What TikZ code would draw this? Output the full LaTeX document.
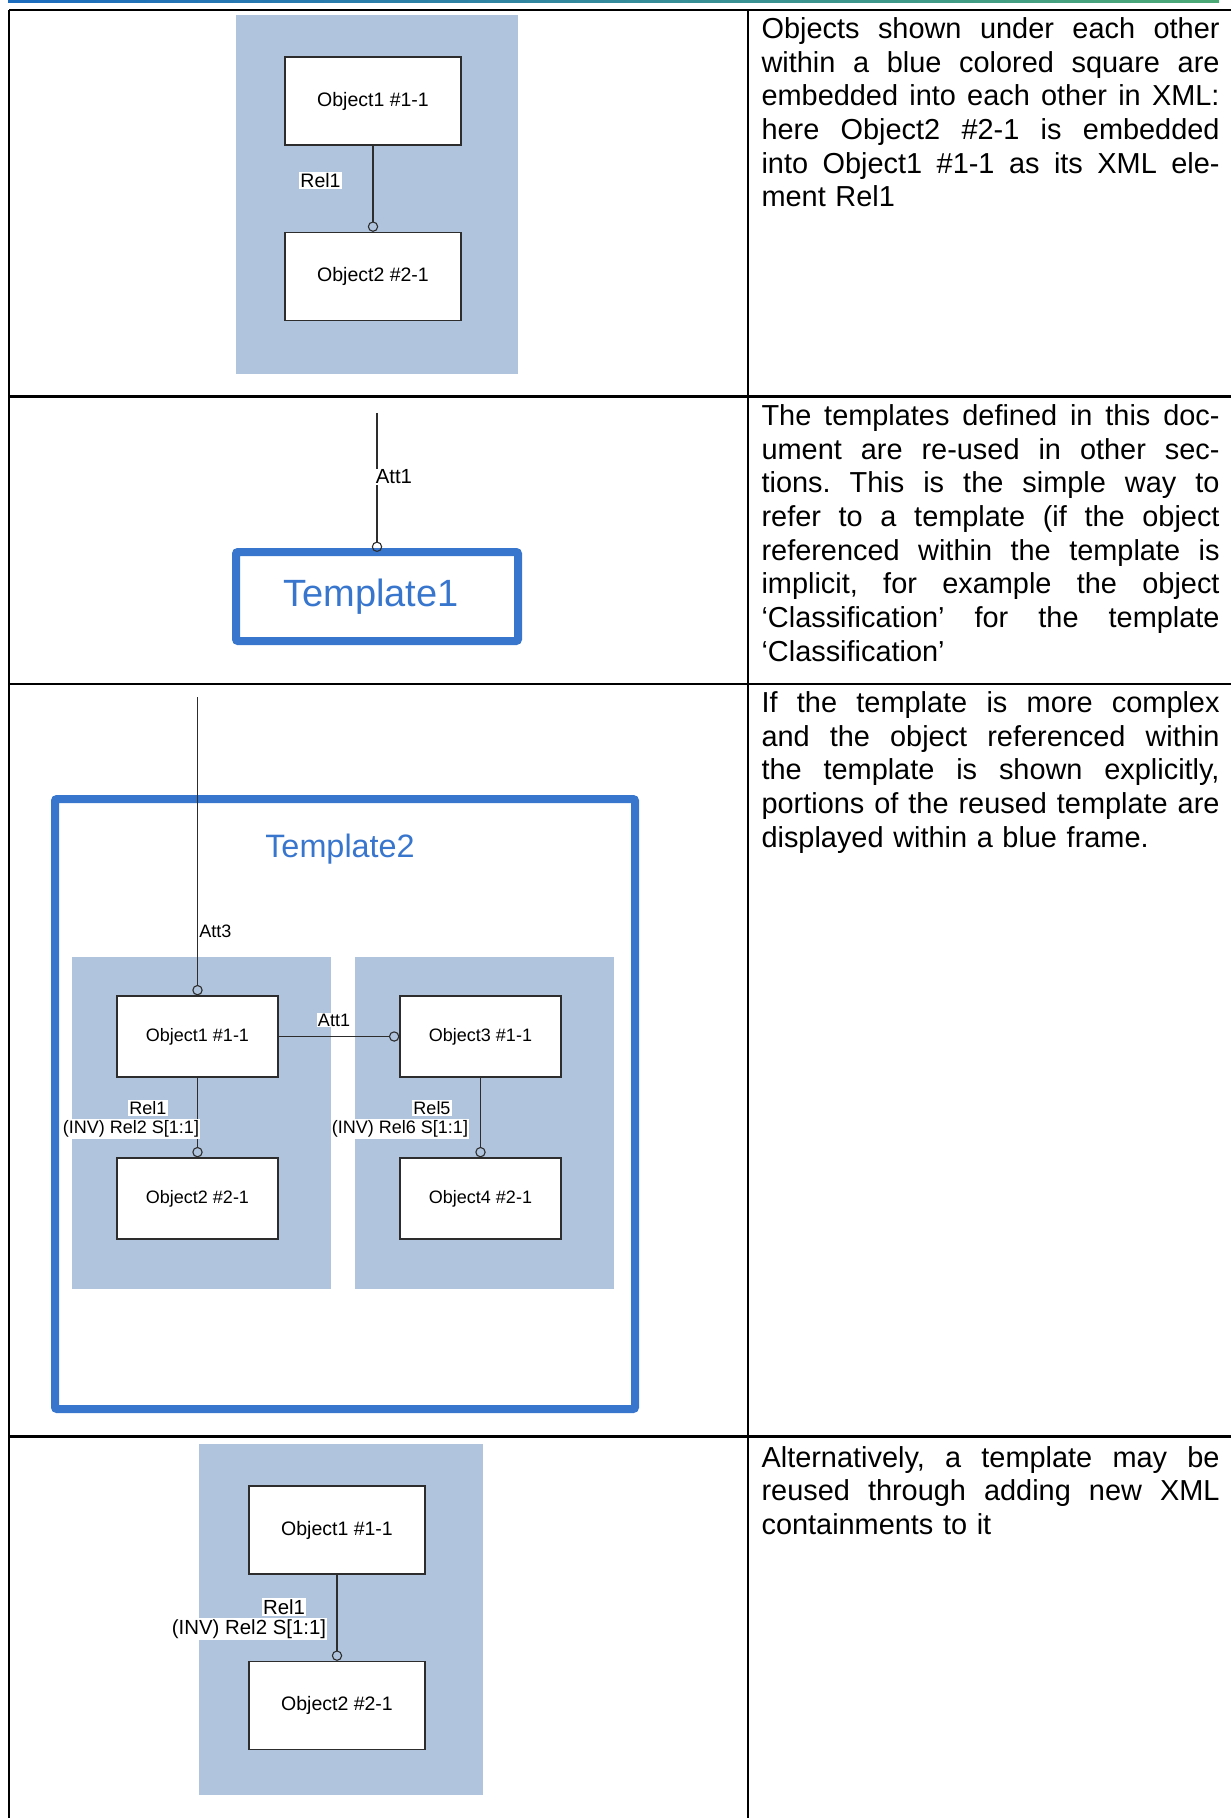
\documentclass[tikz,border=0pt]{standalone}
\usepackage{fontspec}
\setmainfont{Liberation Sans}
\usetikzlibrary{arrows.meta}
\tikzstyle{every path}=[line width=0.55pt]
\tikzstyle{tableline} = [line width=1.1pt, black]
\tikzstyle{object} = [draw=linegray, fill=white, line width=0.65pt, minimum width=88pt, minimum height=44pt, inner sep=0pt, font=\fontsize{9.75}{11}\selectfont]
\tikzstyle{smallobject} = [object, minimum width=80.5pt, minimum height=40.5pt, font=\fontsize{9}{10}\selectfont]
\tikzstyle{relation} = [draw=linegray, -{Circle[open, length=5.2pt]}]
\tikzstyle{rellabel} = [fill=white, inner sep=0.6pt, font=\fontsize{9.75}{10}\selectfont]
\tikzstyle{smallrellabel} = [rellabel, font=\fontsize{9}{10}\selectfont]
\tikzstyle{templatebox} = [draw=templateblue, line width=4pt, outer sep=0pt, rounded corners=1pt, text=templateblue]
\tikzstyle{desc} = [anchor=base west, inner sep=0pt, text width=229pt, align=left, font=\fontsize{14.45}{16.85}\selectfont]
\definecolor{embedfill}{RGB}{176,196,222}
\definecolor{templateblue}{RGB}{56,118,206}
\definecolor{linegray}{RGB}{45,45,45}
\definecolor{headerblue}{RGB}{28,108,192}
\definecolor{headergreen}{RGB}{76,170,118}
\newcommand{\fullline}[1]{\makebox[229pt][s]{\spaceskip=0pt\xspaceskip=0pt\frenchspacing #1}}

\begin{document}
\begin{tikzpicture}[x=0.5pt, y=-0.5pt]
            \useasboundingbox (0,0) rectangle (1231,1818);
            \shade[left color=headerblue, middle color=white, right color=headergreen] (8,0) rectangle (1219,3);
            \foreach \y in {10,396.5,684,1436.5}
                \draw[tableline] (9,\y) -- (1231,\y);
            \draw[tableline] (9,10) -- (9,1818);
            \draw[tableline] (748,10) -- (748,1818);

            \fill[embedfill] (236,15) rectangle (518,374);
            \node[object] (objA) at (373,101) {Object1 \#1-1};
            \node[object] (objB) at (373,276.5) {Object2 \#2-1};
            \draw[relation] (objA) -- (objB);
            \node[rellabel] (relA) at (320.5,180.5) {Rel1};
            \node[desc] (descA) at (761,38.5) {%
                \fullline{Objects shown under each other}\\
                \fullline{within a blue colored square are}\\
                \fullline{embedded into each other in XML:}\\
                \fullline{here Object2 \#2-1 is embedded}\\
                \fullline{into Object1 \#1-1 as its XML ele-}\\
                ment Rel1};

            \coordinate (attAtop) at (377,413);
            \node[templatebox, minimum width=141pt, minimum height=44.5pt, font=\fontsize{19}{21}\selectfont] (tplA) at (377,596.5) {Template1\kern6pt};
            \draw[relation] (attAtop) -- (tplA.north);
            \node[rellabel, anchor=west, font=\fontsize{10.2}{11}\selectfont] (attA) at (374,477) {Att1};
            \node[desc] (descB) at (761,425.5) {%
                \fullline{The templates defined in this doc-}\\
                \fullline{ument are re-used in other sec-}\\
                \fullline{tions. This is the simple way to}\\
                \fullline{refer to a template (if the object}\\
                \fullline{referenced within the template is}\\
                \fullline{implicit, for example the object}\\
                \fullline{‘Classification’ for the template}\\
                ‘Classification’};

            \node[templatebox, minimum width=290pt, minimum height=305pt] (tplB) at (345,1104) {};
            \node[text=templateblue, font=\fontsize{16.2}{18}\selectfont] (tplBname) at (340,849) {Template2};
            \fill[embedfill] (72,957) rectangle (331,1289);
            \fill[embedfill] (355,957) rectangle (614,1289);
            \node[smallobject] (objC) at (197.5,1036.5) {Object1 \#1-1};
            \node[smallobject] (objD) at (480.5,1036.5) {Object3 \#1-1};
            \node[smallobject] (objE) at (197.5,1198.5) {Object2 \#2-1};
            \node[smallobject] (objF) at (480.5,1198.5) {Object4 \#2-1};
            \coordinate (attCtop) at (197.5,697);
            \draw[relation] (attCtop) -- (objC.north);
            \draw[relation] (objC.east) -- (objD.west);
            \draw[relation] (objC) -- (objE);
            \draw[relation] (objD) -- (objF);
            \node[smallrellabel, anchor=west] (attC) at (197.5,931) {Att3};
            \node[smallrellabel] (attD) at (334,1020) {Att1};
            \node[smallrellabel] (relC) at (148,1108) {Rel1};
            \node[smallrellabel] (relCinv) at (131,1129) {(INV) Rel2 S[1:1]};
            \node[smallrellabel] (relD) at (432,1108) {Rel5};
            \node[smallrellabel] (relDinv) at (400,1129) {(INV) Rel6 S[1:1]};
            \node[desc] (descC) at (761,712.5) {%
                \fullline{If the template is more complex}\\
                \fullline{and the object referenced within}\\
                \fullline{the template is shown explicitly,}\\
                \fullline{portions of the reused template are}\\
                displayed within a blue frame.};

            \fill[embedfill] (199,1444) rectangle (483,1795);
            \node[object] (objG) at (337,1530) {Object1 \#1-1};
            \node[object] (objH) at (337,1705.5) {Object2 \#2-1};
            \draw[relation] (objG) -- (objH);
            \node[rellabel, font=\fontsize{10.2}{11}\selectfont] (relG) at (284,1607) {Rel1};
            \node[rellabel, font=\fontsize{10.2}{11}\selectfont] (relH) at (249,1629) {(INV) Rel2 S[1:1]};
            \node[desc] (descD) at (761,1467) {%
                \fullline{Alternatively, a template may be}\\
                \fullline{reused through adding new XML}\\
                containments to it};
        \end{tikzpicture}
\end{document}
